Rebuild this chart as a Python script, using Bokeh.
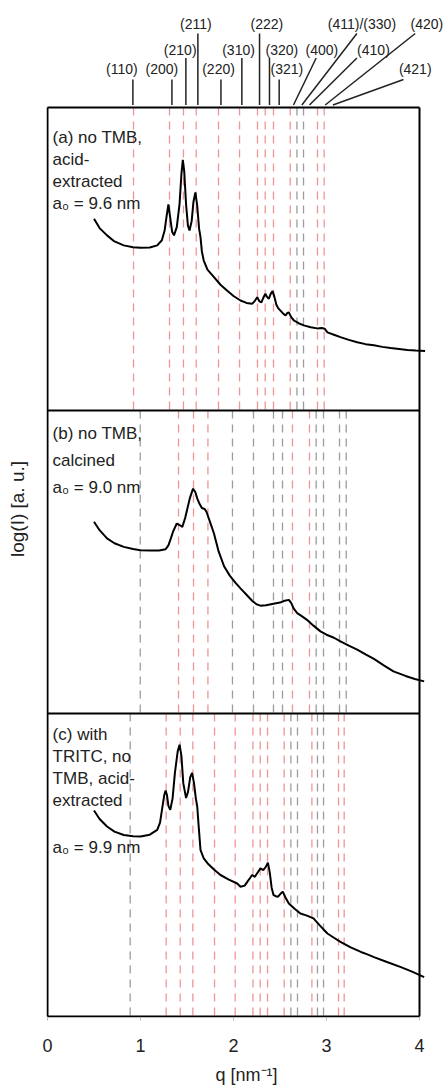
from bokeh.plotting import figure
from bokeh.models import Range1d, FixedTicker
from bokeh.core.properties import value
from bokeh.embed import file_html
from bokeh.resources import INLINE

FONT = value("Liberation Sans")

# ---------------- data ----------------
# (a) no TMB, acid-extracted
q_a = [0.50, 0.56, 0.64, 0.72, 0.82, 0.92, 1.00, 1.10, 1.18, 1.23, 1.26, 1.28, 1.30, 1.32, 1.34, 1.36,
       1.39, 1.42, 1.44, 1.455, 1.47, 1.49, 1.51, 1.527, 1.55, 1.57, 1.59, 1.61, 1.63, 1.645, 1.66, 1.68,
       1.72, 1.79, 1.86, 1.93, 2.00, 2.075, 2.14, 2.20, 2.23, 2.255, 2.28, 2.30, 2.325, 2.344, 2.36, 2.38,
       2.40, 2.42, 2.44, 2.46, 2.48, 2.51, 2.54, 2.56, 2.58, 2.595, 2.62, 2.65, 2.70, 2.756, 2.83, 2.90,
       2.95, 2.98, 3.01, 3.08, 3.15, 3.24, 3.33, 3.42, 3.51, 3.60, 3.69, 3.78, 3.87, 3.96, 4.06]
i_a = [6.33, 6.02, 5.78, 5.58, 5.45, 5.39, 5.37, 5.38, 5.45, 5.62, 5.95, 6.40, 6.80, 6.35, 5.90, 5.78,
       6.05, 6.82, 7.80, 8.27, 7.90, 6.80, 6.10, 5.94, 6.25, 6.90, 7.20, 6.75, 6.00, 5.72, 5.25, 4.95,
       4.65, 4.40, 4.15, 3.96, 3.78, 3.63, 3.55, 3.52, 3.62, 3.74, 3.60, 3.57, 3.75, 3.85, 3.75, 3.69,
       3.85, 3.94, 3.75, 3.50, 3.38, 3.28, 3.18, 3.14, 3.22, 3.24, 3.08, 2.97, 2.88, 2.81, 2.75, 2.71,
       2.72, 2.70, 2.58, 2.50, 2.42, 2.33, 2.25, 2.19, 2.15, 2.10, 2.06, 2.03, 2.00, 1.98, 1.96]

# (b) no TMB, calcined
q_b = [0.50, 0.56, 0.64, 0.72, 0.82, 0.92, 1.00, 1.10, 1.20, 1.27, 1.30, 1.32, 1.35, 1.39, 1.42, 1.45,
       1.48, 1.50, 1.53, 1.565, 1.59, 1.61, 1.63, 1.66, 1.69, 1.71, 1.75, 1.79, 1.84, 1.90, 1.96, 2.02,
       2.075, 2.14, 2.20, 2.25, 2.29, 2.35, 2.43, 2.50, 2.55, 2.595, 2.62, 2.65, 2.685, 2.73, 2.79, 2.86,
       2.935, 3.00, 3.08, 3.15, 3.24, 3.33, 3.42, 3.51, 3.62, 3.72, 3.85, 3.95, 4.05]
i_b = [6.33, 6.05, 5.78, 5.62, 5.50, 5.43, 5.39, 5.38, 5.38, 5.42, 5.55, 5.72, 6.00, 6.27, 6.22, 6.16,
       6.45, 6.71, 7.10, 7.42, 7.30, 7.10, 6.95, 6.78, 6.75, 6.65, 6.30, 5.94, 5.35, 4.85, 4.55, 4.32,
       4.13, 3.92, 3.72, 3.60, 3.56, 3.57, 3.62, 3.66, 3.72, 3.75, 3.65, 3.45, 3.31, 3.22, 3.09, 2.90,
       2.71, 2.60, 2.50, 2.38, 2.24, 2.11, 1.95, 1.80, 1.58, 1.39, 1.24, 1.14, 1.06]

# (c) with TRITC, no TMB, acid-extracted
q_c = [0.50, 0.56, 0.64, 0.72, 0.82, 0.92, 1.00, 1.10, 1.18, 1.21, 1.235, 1.255, 1.27, 1.285, 1.30, 1.32,
       1.345, 1.37, 1.40, 1.42, 1.44, 1.46, 1.49, 1.51, 1.535, 1.555, 1.575, 1.595, 1.61, 1.625, 1.645, 1.68,
       1.72, 1.79, 1.86, 1.95, 2.04, 2.075, 2.12, 2.15, 2.18, 2.20, 2.23, 2.26, 2.29, 2.32, 2.35, 2.37,
       2.39, 2.41, 2.43, 2.455, 2.477, 2.505, 2.53, 2.56, 2.595, 2.66, 2.72, 2.79, 2.86, 2.93, 3.01, 3.08,
       3.15, 3.26, 3.37, 3.44, 3.51, 3.65, 3.80, 3.92, 4.05]
i_c = [6.80, 6.52, 6.27, 6.10, 5.99, 5.95, 5.94, 6.00, 6.16, 6.40, 6.90, 7.30, 7.46, 7.30, 6.95, 6.82,
       7.20, 8.04, 8.75, 8.97, 8.60, 7.70, 7.21, 7.40, 7.90, 8.04, 7.70, 7.20, 6.93, 6.30, 5.50, 5.22,
       5.06, 4.85, 4.67, 4.52, 4.39, 4.28, 4.32, 4.45, 4.58, 4.67, 4.61, 4.75, 4.89, 4.83, 4.95, 5.08,
       4.75, 4.25, 4.01, 3.97, 3.95, 4.05, 4.12, 3.92, 3.73, 3.55, 3.40, 3.33, 3.24, 3.00, 2.74, 2.60,
       2.46, 2.28, 2.13, 2.05, 1.96, 1.80, 1.63, 1.48, 1.30]

# reflection positions (q, nm^-1) and marker colour class (r = red, g = grey)
refl_a = [0.925, 1.312, 1.462, 1.599, 1.839, 2.065, 2.258, 2.341, 2.430, 2.610, 2.682, 2.753, 2.903, 2.975]
cls_a = ["r", "r", "r", "r", "r", "r", "r", "r", "r", "r", "g", "g", "r", "r"]
refl_b = [0.997, 1.409, 1.570, 1.725, 1.989, 2.215, 2.430, 2.527, 2.634, 2.817, 2.889, 2.968, 3.140, 3.212]
cls_b = ["g", "r", "r", "r", "g", "g", "g", "g", "r", "r", "g", "g", "g", "g"]
refl_c = [0.889, 1.276, 1.427, 1.563, 1.796, 2.018, 2.209, 2.287, 2.366, 2.545, 2.617, 2.688, 2.843,
          2.903, 2.968, 3.129, 3.190]
cls_c = ["g", "r", "r", "r", "r", "r", "r", "r", "r", "r", "g", "g", "r", "g", "g", "r", "r"]

# reflection labels above the top panel
hkl = ["(110)", "(200)", "(210)", "(211)", "(220)", "(310)", "(222)", "(320)", "(321)",
       "(400)", "(411)/(330)", "(410)", "(420)", "(421)"]
hkl_label_q = [0.800, 1.230, 1.427, 1.596, 1.839, 2.054, 2.359, 2.520, 2.574,
               2.951, 3.381, 3.505, 4.080, 3.954]
hkl_tier = [0, 0, 1, 2, 0, 1, 2, 1, 0, 1, 2, 1, 2, 0]
hkl_top_q = [0.918, 1.338, 1.488, 1.617, 1.865, 2.090, 2.280, 2.387, 2.491,
             2.889, 3.327, 3.327, 3.954, 3.828]
hkl_foot_q = [0.918, 1.338, 1.488, 1.617, 1.865, 2.090, 2.280, 2.387, 2.491,
              2.645, 2.735, 2.817, 2.986, 3.069]

x_ticks = [0, 1, 2, 3, 4]

text_a = ["(a) no TMB,", "acid-", "extracted", "a\u2080 = 9.6 nm"]
text_b = ["(b) no TMB,", "calcined", "a\u2080 = 9.0 nm"]
text_c = ["(c) with", "TRITC, no", "TMB, acid-", "extracted", "a\u2080 = 9.9 nm"]

# ---------------- layout ----------------
RED = "#ee9595"
GREY = "#9c9c9c"
INK = "#222222"
PANEL = 10.0                      # height of one panel in y units
Q_MAX = 4.0
offsets = {"a": 2 * PANEL, "b": PANEL, "c": 0.0}

W, H = 446, 1090
BL, BB = 46, 73
PX_X = 93.0                       # px per q unit
PX_Y = 30.3                       # px per y unit
x_lo = -1 / PX_X
x_hi = x_lo + (W - BL) / PX_X
y_lo = -1 / PX_Y
y_hi = y_lo + (H - BB) / PX_Y

p = figure(width=W, height=H, x_range=Range1d(x_lo, x_hi), y_range=Range1d(y_lo, y_hi),
           min_border_left=BL, min_border_right=0, min_border_top=0, min_border_bottom=BB,
           toolbar_location=None, output_backend="svg")
p.grid.visible = False
p.outline_line_color = None
p.background_fill_color = "white"
p.border_fill_color = "white"

# x axis
p.xaxis.ticker = FixedTicker(ticks=x_ticks)
p.xaxis.minor_tick_line_color = None
p.xaxis.axis_line_color = None
p.xaxis.major_tick_line_color = "#bbbbbb"
p.xaxis.major_tick_in = 0
p.xaxis.major_tick_out = 3
p.xaxis.major_label_standoff = 18
p.xaxis.major_label_text_font = "Liberation Sans"
p.xaxis.major_label_text_font_size = "18px"
p.xaxis.major_label_text_color = INK
p.xaxis.axis_label = "q [nm\u207b\u00b9]"
p.xaxis.axis_label_text_font = "Liberation Sans"
p.xaxis.axis_label_text_font_style = "normal"
p.xaxis.axis_label_text_font_size = "18px"
p.xaxis.axis_label_text_color = INK
p.xaxis.axis_label_standoff = 10

# y axis (label only)
p.yaxis.ticker = FixedTicker(ticks=[])
p.yaxis.axis_line_color = None
p.yaxis.major_tick_out = 0
p.yaxis.major_tick_in = 0
p.yaxis.minor_tick_line_color = None
p.yaxis.axis_label = "log(I) [a. u.]"
p.yaxis.axis_label_text_font = "Liberation Sans"
p.yaxis.axis_label_text_font_style = "normal"
p.yaxis.axis_label_text_font_size = "19px"
p.yaxis.axis_label_text_color = INK
p.yaxis.axis_label_standoff = 19

# dashed reflection markers
for refl, cls, key in [(refl_a, cls_a, "a"), (refl_b, cls_b, "b"), (refl_c, cls_c, "c")]:
    base = offsets[key]
    for want, col in [("r", RED), ("g", GREY)]:
        xs = [q for q, c in zip(refl, cls) if c == want]
        if xs:
            p.segment(x0=xs, y0=[base + PANEL] * len(xs), x1=xs, y1=[base] * len(xs),
                      line_color=col, line_width=1.3, line_dash="8 6")

# curves
for qq, ii, key in [(q_a, i_a, "a"), (q_b, i_b, "b"), (q_c, i_c, "c")]:
    base = offsets[key]
    p.line(qq, [v + base for v in ii], line_color="black", line_width=2)

# panel frames
levels = [0.0, PANEL, 2 * PANEL, 3 * PANEL]
p.segment(x0=[0.0] * 4, y0=levels, x1=[Q_MAX] * 4, y1=levels, line_color="black", line_width=2)
p.segment(x0=[0.0, Q_MAX], y0=[0.0, 0.0], x1=[0.0, Q_MAX], y1=[3 * PANEL] * 2,
          line_color="black", line_width=2)

# panel annotations: (first-line offset below panel top, line step) in y units
text_layout = {"a": (1.0, 0.72), "b": (0.76, 0.89), "c": (0.70, 0.72)}
text_x = 0.055
for lines, key in [(text_a, "a"), (text_b, "b"), (text_c, "c")]:
    top = offsets[key] + PANEL
    first, step = text_layout[key]
    ys = [top - first - k * step for k in range(len(lines))]
    if key == "c":
        ys[-1] = top - 4.42
    p.text(x=[text_x] * len(lines), y=ys, text=lines, text_font=FONT, text_font_size="17px",
           text_color=INK, text_align="left", text_baseline="middle")

# ---------------- (hkl) labels above the top panel ----------------
top_y = 3 * PANEL
tier_text_px = [38.5, 57.5, 84.0]      # label centre height above the frame, px
tier_lead_px = [28.0, 49.5, 74.0]      # leader top height above the frame, px
FOOT_PX = 2.5
p.segment(x0=hkl_top_q, y0=[top_y + tier_lead_px[t] / PX_Y for t in hkl_tier],
          x1=hkl_foot_q, y1=[top_y + FOOT_PX / PX_Y] * len(hkl), line_color=INK, line_width=1.5)
p.text(x=hkl_label_q, y=[top_y + tier_text_px[t] / PX_Y for t in hkl_tier], text=hkl,
       text_font=FONT, text_font_size="14px", text_color=INK, text_align="center",
       text_baseline="middle")

open("out.html", "w").write(file_html(p, INLINE))
